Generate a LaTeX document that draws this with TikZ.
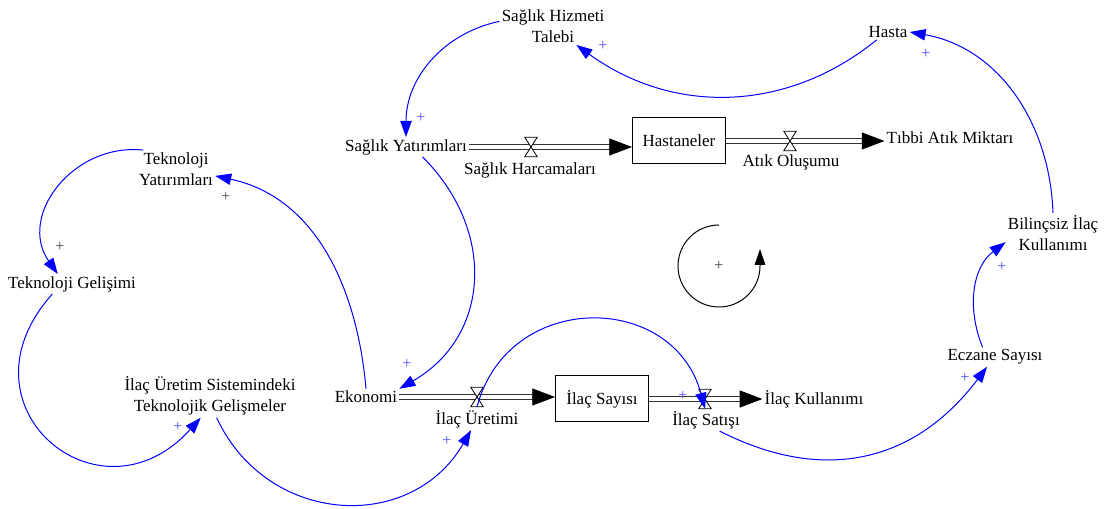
\documentclass[tikz,border=0pt]{standalone}
\usepackage{fontspec}
\setmainfont{Liberation Serif}
\usetikzlibrary{arrows.meta,calc}
\begin{document}
\begin{tikzpicture}[x=0.75pt,y=-0.75pt,
  var/.style={font=\fontsize{12.75}{16}\selectfont, inner sep=1.5pt, align=center, text=black},
  stock/.style={draw, line width=0.75pt, minimum width=69.75pt, minimum height=34.5pt,
    inner sep=0pt, font=\fontsize{12.75}{16}\selectfont},
  valve/.style={minimum width=9pt, minimum height=14.25pt, inner sep=0pt},
  hourglass/.style={draw=black, line width=0.6pt, fill=white},
  pipe/.style={draw=black!80, line width=0.65pt, double=white, double distance=2.8pt, shorten >=14pt},
  pipetip/.style={draw=black, fill=black, line width=0.6pt, -{Triangle[length=17pt,width=12.75pt]}},
  link/.style={draw=blue, line width=0.75pt, -{Triangle[length=12pt,width=8.5pt]}},
  pol/.style={font=\fontsize{12}{12}\selectfont, text=blue!70, inner sep=0pt},
  polk/.style={pol, text=black!75},
]
\useasboundingbox (0,0) rectangle (1108,509);

% variables
\node[var] (sht)   at (553,26)  {Sağlık Hizmeti\\Talebi};
\node[var] (hasta) at (888,32)  {Hasta};
\node[var] (sy)    at (406,147) {Sağlık Yatırımları};
\node[stock] (hast) at (679,141) {Hastaneler};
\node[var] (tam)   at (950,138) {Tıbbi Atık Miktarı};
\node[var] (tyat)  at (176,169) {Teknoloji\\Yatırımları};
\node[var] (tg)    at (72,284)  {Teknoloji Gelişimi};
\node[var] (bil)   at (1053,233) {Bilinçsiz İlaç\\Kullanımı};
\node[var] (eko)   at (366,397) {Ekonomi};
\node[stock] (isay) at (602,399) {İlaç Sayısı};
\node[var] (ikul)  at (814,399) {İlaç Kullanımı};
\node[var] (ius)   at (210,396) {İlaç Üretim Sistemindeki\\Teknolojik Gelişmeler};
\node[var] (ecz)   at (995,357) {Eczane Sayısı};

% valves and rate labels
\node[valve] (v1) at (531,147) {};
\node[valve] (v2) at (790,141) {};
\node[valve] (v3) at (477,397) {};
\node[valve] (v4) at (705,399) {};
\node[var] (harc)   at (530,170) {Sağlık Harcamaları};
\node[var] (atik)   at (791,162) {Atık Oluşumu};
\node[var] (uretim) at (477,419) {İlaç Üretimi};
\node[var] (satis)  at (706,420) {İlaç Satışı};

% flow pipes
\draw[pipe] (sy.east) -- (sy.east -| hast.west);
\draw[pipetip] ($(sy.east -| hast.west)+(-17pt,0)$) -- (sy.east -| hast.west);
\draw[pipe] (hast.east) -- (hast.east -| tam.west);
\draw[pipetip] ($(hast.east -| tam.west)+(-17pt,0)$) -- (hast.east -| tam.west);
\draw[pipe] (eko.east) -- (eko.east -| isay.west);
\draw[pipetip] ($(eko.east -| isay.west)+(-17pt,0)$) -- (eko.east -| isay.west);
\draw[pipe] (isay.east) -- (isay.east -| ikul.west);
\draw[pipetip] ($(isay.east -| ikul.west)+(-17pt,0)$) -- (isay.east -| ikul.west);

\foreach \v in {v1,v2,v3,v4}
  \draw[hourglass] (\v.north west) -- (\v.north east) -- (\v.south west) -- (\v.south east) -- cycle;

% causal links
\draw[link] (hasta.215) to[out=219,in=324] (sht.321);
\draw[link] (sht.175) to[out=192,in=90] (sy.north);
\draw[link] (sy.-31) to[out=-45,in=30,looseness=1.15] (eko.north east);
\draw[link] (eko.north) to[out=95,in=-12] (tyat.-10);
\draw[link] (tyat.150) to[out=174,in=125,looseness=1.2] (tg.145);
\draw[link] (tg.207) to[out=228,in=228,looseness=2.0] (ius.247);
\draw[link] (ius.287) to[out=295,in=240,looseness=1.2] (uretim.242);
\draw[link] (v3.south) to[out=75,in=105,looseness=1.36] (v4.south);
\draw[link] (satis.-39) to[out=-27,in=233,looseness=1.1] (ecz.231);
\draw[link] (ecz.142) to[out=112,in=217] (bil.191);
\draw[link] (bil.north) to[out=92,in=-10] (hasta.east);

% polarities
\node[pol]  (p1)  at (603,46)  {+};
\node[pol]  (p2)  at (421,118) {+};
\node[pol]  (p3)  at (407,364) {+};
\node[polk] (p4)  at (226,197) {+};
\node[polk] (p5)  at (60,247)  {+};
\node[pol]  (p6)  at (178,427) {+};
\node[pol]  (p7)  at (447,441) {+};
\node[pol]  (p8)  at (683,396) {+};
\node[pol]  (p9)  at (965,378) {+};
\node[pol]  (p10) at (1002,267) {+};
\node[pol]  (p11) at (926,54)  {+};

% reinforcing loop marker
\coordinate (loopc) at (719,266);
\draw[line width=0.75pt, -{Triangle[length=12pt,width=8pt]}]
  (loopc) ++(90:30.75pt) arc[start angle=90, end angle=360, radius=30.75pt] -- ++(0,-17);
\node[polk] (lp) at (loopc) {+};
\end{tikzpicture}
\end{document}
